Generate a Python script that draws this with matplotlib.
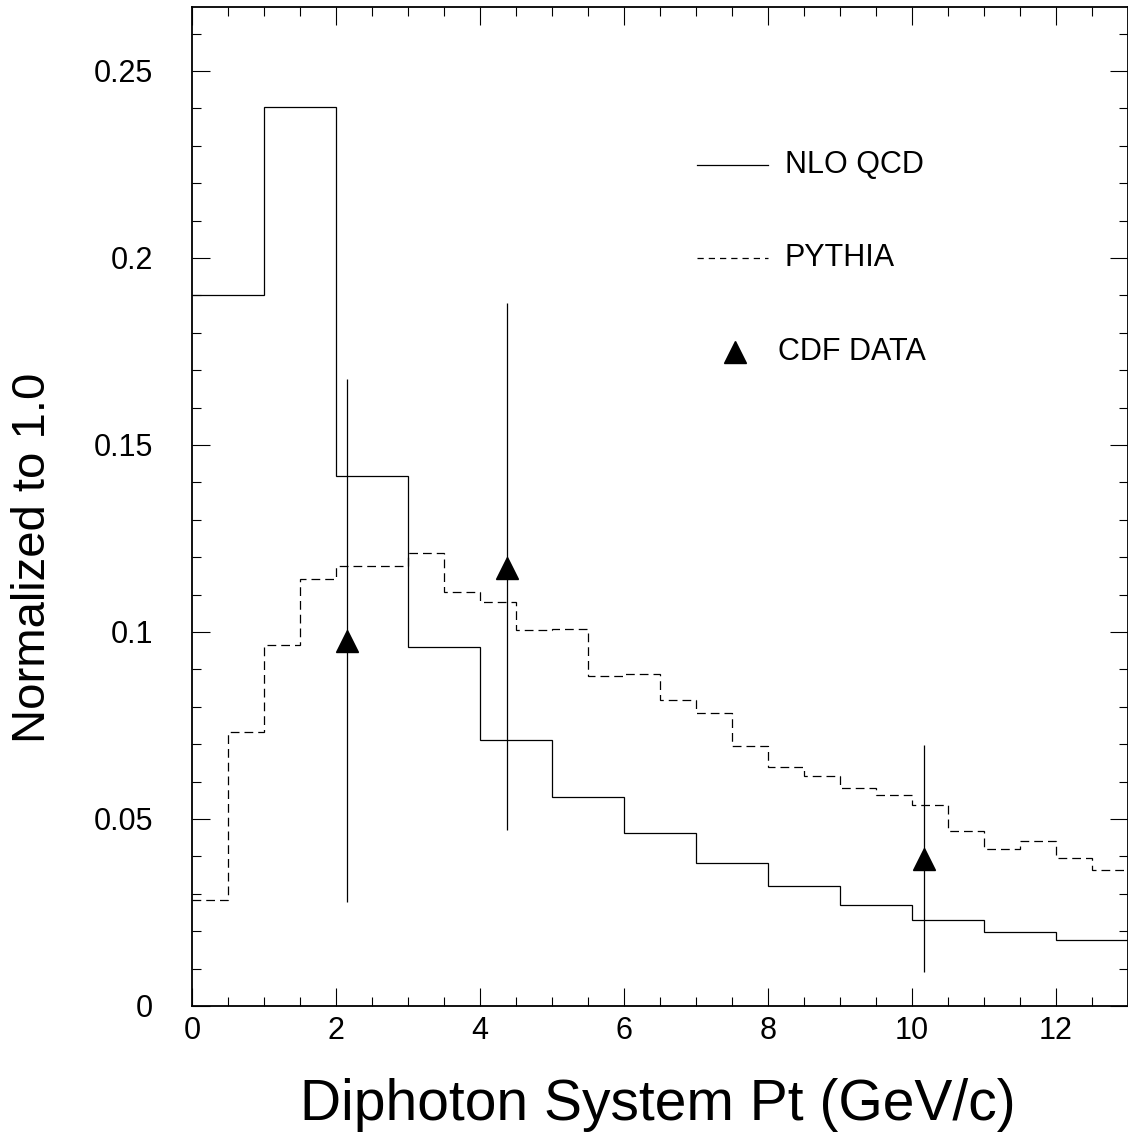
import numpy as np
import matplotlib
matplotlib.use("Agg")
import matplotlib.pyplot as plt
from matplotlib.ticker import MultipleLocator

plt.rcParams['font.family'] = ['Liberation Sans', 'DejaVu Sans']

# NLO QCD histogram, 1 GeV bins from 0 to 13
nlo_edges = np.arange(0, 14, 1)
nlo_vals = [0.190, 0.2403, 0.1417, 0.0959, 0.0712, 0.0560, 0.0462,
            0.0382, 0.0320, 0.0269, 0.0229, 0.0199, 0.0176]

# PYTHIA histogram, 0.5 GeV bins from 0 to 13
py_edges = np.arange(0, 13.5, 0.5)
py_vals = [0.0284, 0.0733, 0.0965, 0.1142, 0.1176, 0.1176, 0.1210, 0.1106,
           0.1079, 0.1004, 0.1009, 0.0881, 0.0888, 0.0818, 0.0783, 0.0696,
           0.0640, 0.0615, 0.0582, 0.0565, 0.0537, 0.0469, 0.0421, 0.0441,
           0.0396, 0.0364]

# CDF data points with error bar ends
cdf_x = [2.15, 4.38, 10.16]
cdf_y = [0.0975, 0.1170, 0.0392]
cdf_lo = [0.0278, 0.0471, 0.0090]
cdf_hi = [0.1675, 0.1880, 0.0698]

fig = plt.figure(figsize=(11.28, 11.42), dpi=100)
ax = fig.add_axes([0.1702, 0.1191, 0.8298, 0.8748])

ax.stairs(nlo_vals, nlo_edges, baseline=None, color='black', lw=0.9)
ax.stairs(py_vals, py_edges, baseline=None, color='black', lw=0.9,
          linestyle=(0, (7, 4)))

yerr = [np.array(cdf_y) - np.array(cdf_lo), np.array(cdf_hi) - np.array(cdf_y)]
ax.errorbar(cdf_x, cdf_y, yerr=yerr, fmt='^', color='black', ms=16,
            elinewidth=0.9, capsize=0)

ax.set_xlim(0, 13)
ax.set_ylim(0, 0.2671)
ax.xaxis.set_major_locator(MultipleLocator(2))
ax.xaxis.set_minor_locator(MultipleLocator(0.5))
ax.yaxis.set_major_locator(MultipleLocator(0.05))
ax.yaxis.set_minor_locator(MultipleLocator(0.01))
ax.set_yticks([0, 0.05, 0.1, 0.15, 0.2, 0.25])
ax.set_yticklabels(['0', '0.05', '0.1', '0.15', '0.2', '0.25'])

ax.tick_params(which='both', direction='in', top=True, right=True, width=0.8,
               labelsize=22)
ax.tick_params(which='major', length=13)
ax.tick_params(which='minor', length=6.5)
ax.tick_params(axis='x', which='major', pad=7)
ax.tick_params(axis='y', which='major', pad=28)
for s in ax.spines.values():
    s.set_linewidth(1.3)

# legend drawn by hand like the original
ax.plot([0.5395, 0.6154], [0.8418, 0.8418], transform=ax.transAxes,
        color='black', lw=0.9)
ax.text(0.6335, 0.8418, 'NLO QCD', transform=ax.transAxes, fontsize=22,
        va='center', ha='left')
ax.plot([0.5395, 0.6154], [0.7487, 0.7487], transform=ax.transAxes,
        color='black', lw=0.9, linestyle=(0, (5, 4)))
ax.text(0.6335, 0.7487, 'PYTHIA', transform=ax.transAxes, fontsize=22,
        va='center', ha='left')
ax.plot([0.580], [0.6547], marker='^', ms=16, color='black',
        transform=ax.transAxes)
ax.text(0.626, 0.6547, 'CDF DATA', transform=ax.transAxes, fontsize=22,
        va='center', ha='left')

fig.text(0.5834, 0.0193, 'Diphoton System Pt (GeV/c)', fontsize=41,
         ha='center', va='baseline')
fig.text(0.029, 0.5114, 'Normalized to 1.0', fontsize=34, rotation=90,
         ha='center', va='center')

fig.savefig('out.png', dpi=100)
